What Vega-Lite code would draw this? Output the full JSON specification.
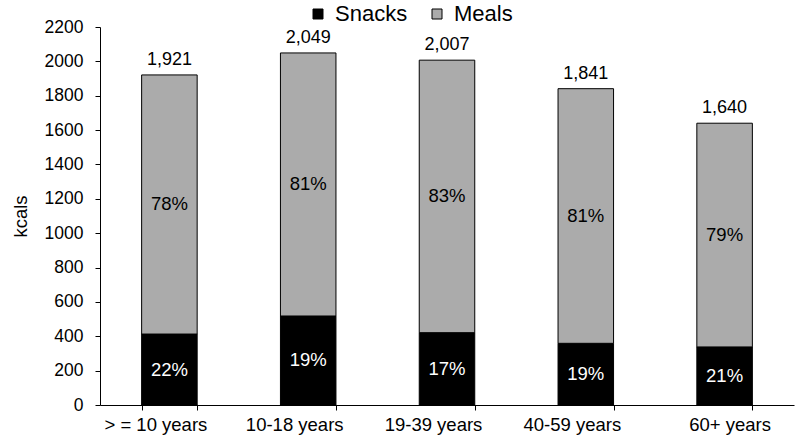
{
  "$schema": "https://vega.github.io/schema/vega-lite/v6.json",
  "width": 694,
  "height": 378,
  "autosize": {"type": "none"},
  "padding": {"left": 100, "top": 27, "right": 6, "bottom": 42},
  "config": {
    "font": "Liberation Sans",
    "view": {"stroke": null},
    "axis": {"domainColor": "#000", "tickColor": "#000", "labelColor": "#000", "titleColor": "#000", "grid": false, "domainWidth": 1, "tickWidth": 1, "labelOverlap": false}
  },
  "data": {
    "values": [
      {"age": "> = 10 years", "series": "Snacks", "kcal": 413, "pct": "22%", "total": "1,921", "ord": 1},
      {"age": "> = 10 years", "series": "Meals", "kcal": 1508, "pct": "78%", "total": "1,921", "ord": 2},
      {"age": "10-18 years", "series": "Snacks", "kcal": 518, "pct": "19%", "total": "2,049", "ord": 1},
      {"age": "10-18 years", "series": "Meals", "kcal": 1531, "pct": "81%", "total": "2,049", "ord": 2},
      {"age": "19-39 years", "series": "Snacks", "kcal": 421, "pct": "17%", "total": "2,007", "ord": 1},
      {"age": "19-39 years", "series": "Meals", "kcal": 1586, "pct": "83%", "total": "2,007", "ord": 2},
      {"age": "40-59 years", "series": "Snacks", "kcal": 359, "pct": "19%", "total": "1,841", "ord": 1},
      {"age": "40-59 years", "series": "Meals", "kcal": 1482, "pct": "81%", "total": "1,841", "ord": 2},
      {"age": "60+ years", "series": "Snacks", "kcal": 338, "pct": "21%", "total": "1,640", "ord": 1},
      {"age": "60+ years", "series": "Meals", "kcal": 1302, "pct": "79%", "total": "1,640", "ord": 2}
    ]
  },
  "transform": [
    {"stack": "kcal", "groupby": ["age"], "sort": [{"field": "ord"}], "as": ["v0", "v1"]},
    {"calculate": "(datum.v0 + datum.v1) / 2", "as": "mid"}
  ],
  "encoding": {
    "x": {
      "field": "age",
      "type": "nominal",
      "sort": null,
      "scale": {"paddingInner": 0.6, "paddingOuter": 0.3},
      "axis": {
        "title": null,
        "labelAngle": 0,
        "labelFontSize": 18.5,
        "labelPadding": 5,
        "tickSize": 5,
        "tickBand": "extent",
        "labelOffset": {"condition": {"test": "datum.value == '60+ years'", "value": 5}, "value": -14}
      }
    }
  },
  "resolve": {"axis": {"y": "independent"}, "scale": {"y": "shared"}},
  "layer": [
    {
      "mark": {"type": "bar", "stroke": "#000", "strokeWidth": 1},
      "encoding": {
        "y": {
          "field": "v0",
          "type": "quantitative",
          "scale": {"domain": [0, 2200], "nice": false},
          "axis": {
            "title": "kcals",
            "values": [0, 200, 400, 600, 800, 1000, 1200, 1400, 1600, 1800, 2000, 2200],
            "format": "d",
            "labelOverlap": false,
            "labelFontSize": 17.5,
            "titleFontSize": 18.5,
            "titleFontWeight": "normal",
            "tickSize": 5,
            "labelPadding": 12,
            "titlePadding": 14
          }
        },
        "y2": {"field": "v1"},
        "fill": {
          "field": "series",
          "type": "nominal",
          "scale": {"domain": ["Snacks", "Meals"], "range": ["#000000", "#ababab"]},
          "legend": {
            "title": null,
            "orient": "none",
            "direction": "horizontal",
            "legendX": 207,
            "legendY": -24,
            "symbolType": "square",
            "symbolSize": 100,
            "symbolStrokeColor": "#000",
            "symbolStrokeWidth": 1,
            "labelFontSize": 22,
            "labelColor": "#000",
            "labelOffset": 6,
            "columnPadding": 18
          }
        }
      }
    },
    {
      "mark": {"type": "text", "fontSize": 18.5, "baseline": "middle"},
      "encoding": {
        "y": {"field": "mid", "type": "quantitative", "axis": null},
        "text": {"field": "pct"},
        "color": {"condition": {"test": "datum.series == 'Snacks'", "value": "#ffffff"}, "value": "#000000"}
      }
    },
    {
      "transform": [{"filter": "datum.series == 'Meals'"}],
      "mark": {"type": "text", "fontSize": 18, "baseline": "bottom", "dy": -6, "color": "#000"},
      "encoding": {
        "y": {"field": "v1", "type": "quantitative", "axis": null},
        "text": {"field": "total"}
      }
    }
  ]
}
